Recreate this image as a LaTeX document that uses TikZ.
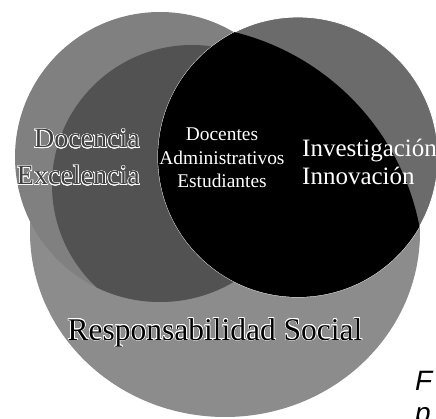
\documentclass[tikz,border=0pt]{standalone}
\usepackage{fontspec}
\usepackage{contour}
\setmainfont{Liberation Serif}
\setsansfont{Liberation Sans}
\contourlength{0.6pt}
\begin{document}
\begin{tikzpicture}[x=1pt,y=-1pt,
      label/.style={inner sep=0pt},
      bigtext/.style={label,font=\fontsize{31.5}{34}\selectfont},
      sidetext/.style={label,font=\fontsize{28}{37}\selectfont},
      smalltext/.style={label,font=\fontsize{19.4}{23.5}\selectfont}]
      \useasboundingbox (0,0) rectangle (436,419);
      \clip (0,0) rectangle (436,419);
      % Responsabilidad Social
      \fill[black!45] (225,232) ellipse[x radius=195pt,y radius=185pt];
      % Docencia
      \fill[black!50] (160,157) circle[radius=145pt];
      \begin{scope}
       \clip (160,157) circle[radius=145pt];
       \fill[black!68] (192,185) circle[radius=140pt];
      \end{scope}
      % Investigacion
      \path[fill=black!58,draw=white,line width=0.8pt] (298,157) circle[radius=140pt];
      \begin{scope}
       \clip (298,157) circle[radius=140pt];
       \fill[black] (175,274) circle[radius=249pt];
      \end{scope}
      % the base anchor of a multi-line node sits on its last line
      \node[sidetext,align=right,anchor=base east,text=black!75] (docencia) at (140,185) {\contour{white}{Docencia}\\\contour{white}{Excelencia}};
      \node[smalltext,align=center,anchor=base,text=white] (actores) at (222,188) {Docentes\\Administrativos\\Estudiantes};
      \node[sidetext,font=\fontsize{25}{28}\selectfont,align=left,anchor=base west,text=white] (investigacion) at (302,185) {Investigación\\Innovación};
      \node[bigtext,anchor=base] (social) at (215,340) {\contour{white}{Responsabilidad Social}};
      \node[label,font=\sffamily\itshape\fontsize{28}{32}\selectfont,align=left,anchor=base west] (pie) at (415,422) {F\\p};
     \end{tikzpicture}
\end{document}
